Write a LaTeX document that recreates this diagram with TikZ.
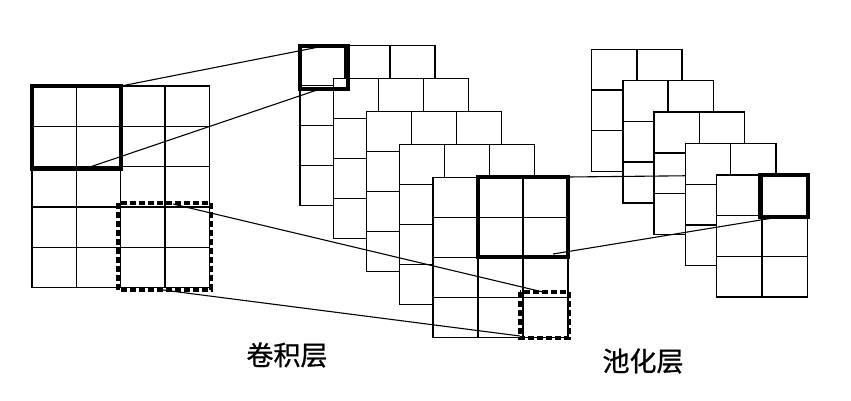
\documentclass[tikz,border=0pt]{standalone}
\usepackage{fontspec}
\newfontfamily\cjk[FakeBold=0.8]{Noto Sans CJK SC}
% #1 x, #2 y, #3 cols, #4 rows, #5 cell width, #6 cell height
\newcommand\fmap[6]{%
  \fill[white] (#1,#2) rectangle ++(#3*#5,#4*#6);
  \foreach \i in {0,...,#3} \draw[gridline] (#1+\i*#5,#2) -- ++(0,#4*#6);
  \foreach \j in {0,...,#4} \draw[gridline] (#1,#2+\j*#6) -- ++(#3*#5,0);
}
\begin{document}
\begin{tikzpicture}[x=1pt,y=-1pt,
  gridline/.style={line width=1.4pt, line cap=rect},
  thickbox/.style={line width=3.3pt},
  dashbox/.style={line width=3.3pt, dash pattern=on 6pt off 3pt},
  conn/.style={line width=1.1pt},
  lbl/.style={font=\cjk\fontsize{27}{27}\selectfont, inner sep=0pt}]
\useasboundingbox (0,0) rectangle (851,400);
\fill[white] (0,0) rectangle (851,400);

% input map
\fmap{32}{86}{4}{5}{44.3}{40.3}

% convolution maps
\foreach \k in {0,...,4}{
  \fmap{300+33.25*\k}{45.5+33*\k}{3}{4}{45}{40}
}

% pooled maps 1-3
\foreach \k in {0,...,2}{
  \fmap{591.5+31.3*\k}{49.3+31.4*\k}{2}{3}{45.3}{40.7}
}

% anchor coordinates
\coordinate (inTR) at (121,86);
\coordinate (inB) at (87,168);
\coordinate (inDT) at (173,204);
\coordinate (inDB) at (163,290);
\coordinate (c1T) at (324,46);
\coordinate (c1B) at (320,89);
\coordinate (c5DT) at (543,292);
\coordinate (c5DB) at (520,336);
\coordinate (c5TR) at (568,177);
\coordinate (c5In) at (553,254);
\coordinate (p5TL) at (758,175);
\coordinate (p5B) at (773,218);

% line hidden by pooled maps 4 and 5
\draw[conn] (c5TR) -- (p5TL);

% pooled maps 4-5
\foreach \k in {3,4}{
  \fmap{591.5+31.3*\k}{49.3+31.4*\k}{2}{3}{45.3}{40.7}
}

% highlight boxes
\draw[thickbox] (32,86) rectangle (121,169);
\draw[thickbox] (300,46) rectangle (348,89);
\draw[thickbox] (478,177) rectangle (568,257);
\draw[thickbox] (760,175) rectangle (808,217);
\draw[dashbox] (118,203) rectangle (211,290);
\draw[dashbox] (520,292) rectangle (569,338);

% connectors
\draw[conn] (inTR) -- (c1T);
\draw[conn] (inB) -- (c1B);
\draw[conn] (inDT) -- (c5DT);
\draw[conn] (inDB) -- (c5DB);
\draw[conn] (c5In) -- (p5B);

% labels
\node[lbl] (convlbl) at (287,355) {卷积层};
\node[lbl] (poollbl) at (643,361) {池化层};
\end{tikzpicture}
\end{document}
